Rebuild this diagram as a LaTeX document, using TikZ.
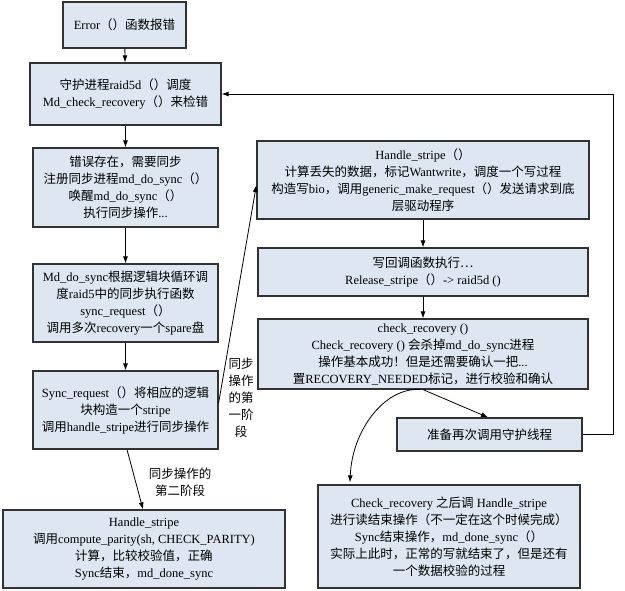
\documentclass[tikz,border=0pt]{standalone}
\usepackage{fontspec}
\setmainfont{Liberation Serif}
\newfontfamily\cjk{Noto Sans CJK SC}
\usetikzlibrary{arrows.meta,calc}
\newcommand\zh[1]{{\cjk #1}}
\definecolor{boxfill}{RGB}{221,230,241}
\definecolor{boxline}{RGB}{50,50,50}
\begin{document}
\begin{tikzpicture}[x=1pt,y=-1pt,
  box/.style={draw=boxline,line width=1.2pt,fill=boxfill,inner sep=0pt,align=center,font=\fontsize{12.5}{17}\selectfont},
  arr/.style={draw=black,line width=0.8pt,-{Latex[length=7pt,width=5pt]}},
  lbl/.style={align=center,font=\fontsize{12.5}{17}\selectfont,inner sep=0pt}]
\useasboundingbox[fill=white] (0,0) rectangle (625,591);
% left column
\node[box,minimum width=123pt,minimum height=46pt] (err) at (124.5,25) {Error\zh{（）函数报错}};
\node[box,minimum width=191pt,minimum height=62pt] (raid) at (125.5,94) {\zh{守护进程}raid5d\zh{（）调度}\\Md\_check\_recovery\zh{（）来检错}};
\node[box,minimum width=185pt,minimum height=79pt] (need) at (125.5,187.5) {\zh{错误存在，需要同步}\\\zh{注册同步进程}md\_do\_sync\zh{（）}\\\zh{唤醒}md\_do\_sync\zh{（）}\\\zh{执行同步操作}...};
\node[box,minimum width=185pt,minimum height=78pt] (mdsync) at (125.5,303) {Md\_do\_sync\zh{根据逻辑块循环调}\\\zh{度}raid5\zh{中的同步执行函数}\\sync\_request\zh{（）}\\\zh{调用多次}recovery\zh{一个}spare\zh{盘}};
\node[box,minimum width=185pt,minimum height=78pt] (syncreq) at (125.5,410) {Sync\_request\zh{（）将相应的逻辑}\\\zh{块构造一个}stripe\\\zh{调用}handle\_stripe\zh{进行同步操作}};
\node[box,minimum width=282pt,minimum height=78pt] (hs2) at (144,549) {Handle\_stripe\\\zh{调用}compute\_parity(sh, CHECK\_PARITY)\\\zh{计算，比较校验值，正确}\\Sync\zh{结束，}md\_done\_sync};
% right column
\node[box,minimum width=332pt,minimum height=78pt] (hs1) at (423,180) {Handle\_stripe\zh{（）}\\\zh{计算丢失的数据，标记}Wantwrite\zh{，调度一个写过程}\\\zh{构造写}bio\zh{，调用}generic\_make\_request\zh{（）发送请求到底}\\\zh{层驱动程序}};
\node[box,minimum width=330pt,minimum height=48pt] (wb) at (423,272) {\zh{写回调函数执行…}\\Release\_stripe\zh{（）}-> raid5d ()};
\node[box,minimum width=330pt,minimum height=70pt] (chk) at (423,354) {check\_recovery ()\\Check\_recovery () \zh{会杀掉}md\_do\_sync\zh{进程}\\\zh{操作基本成功！但是还需要确认一把}...\\\zh{置}RECOVERY\_NEEDED\zh{标记，进行校验和确认}};
\node[box,minimum width=185pt,minimum height=33pt] (prep) at (489.5,434.5) {\zh{准备再次调用守护线程}};
\node[box,minimum width=262pt,minimum height=103pt] (fin) at (449,536.5) {Check\_recovery \zh{之后调} Handle\_stripe\\\zh{进行读结束操作（不一定在这个时候完成）}\\Sync\zh{结束操作，}md\_done\_sync\zh{（）}\\\zh{实际上此时，正常的写就结束了，但是还有}\\\zh{一个数据校验的过程}};
% labels
\node[lbl] (l2) at (180,482) {\zh{同步操作的}\\\zh{第二阶段}};
\node[lbl] (l1) at (241,398) {\zh{同步}\\\zh{操作}\\\zh{的第}\\\zh{一阶}\\\zh{段}};
% connectors
\draw[arr] (err) -- (raid);
\draw[arr] (raid) -- (need);
\draw[arr] (need) -- (mdsync);
\draw[arr] (mdsync) -- (syncreq);
\draw[arr] (hs1) -- (wb);
\draw[arr] (wb) -- (chk);
\draw[arr] ($(syncreq.south)+(1.5,0)$) -- ($(hs2.north)+(-1,0)$);
\draw[arr] ($(syncreq.east)+(0,-7)$) -- ($(hs1.west)+(0,5)$);
\draw[arr] (chk.south) -- ($(prep.north)+(-1.5,0)$);
\draw[arr] ($(chk.south)+(-3,0)$) .. controls (385,387) and (352,430) .. ($(fin.north)+(-99,-2)$);
\coordinate (rx) at (613,0);
\draw[arr] (prep.east) -| (rx |- raid.east) -- (raid.east);
\end{tikzpicture}
\end{document}
